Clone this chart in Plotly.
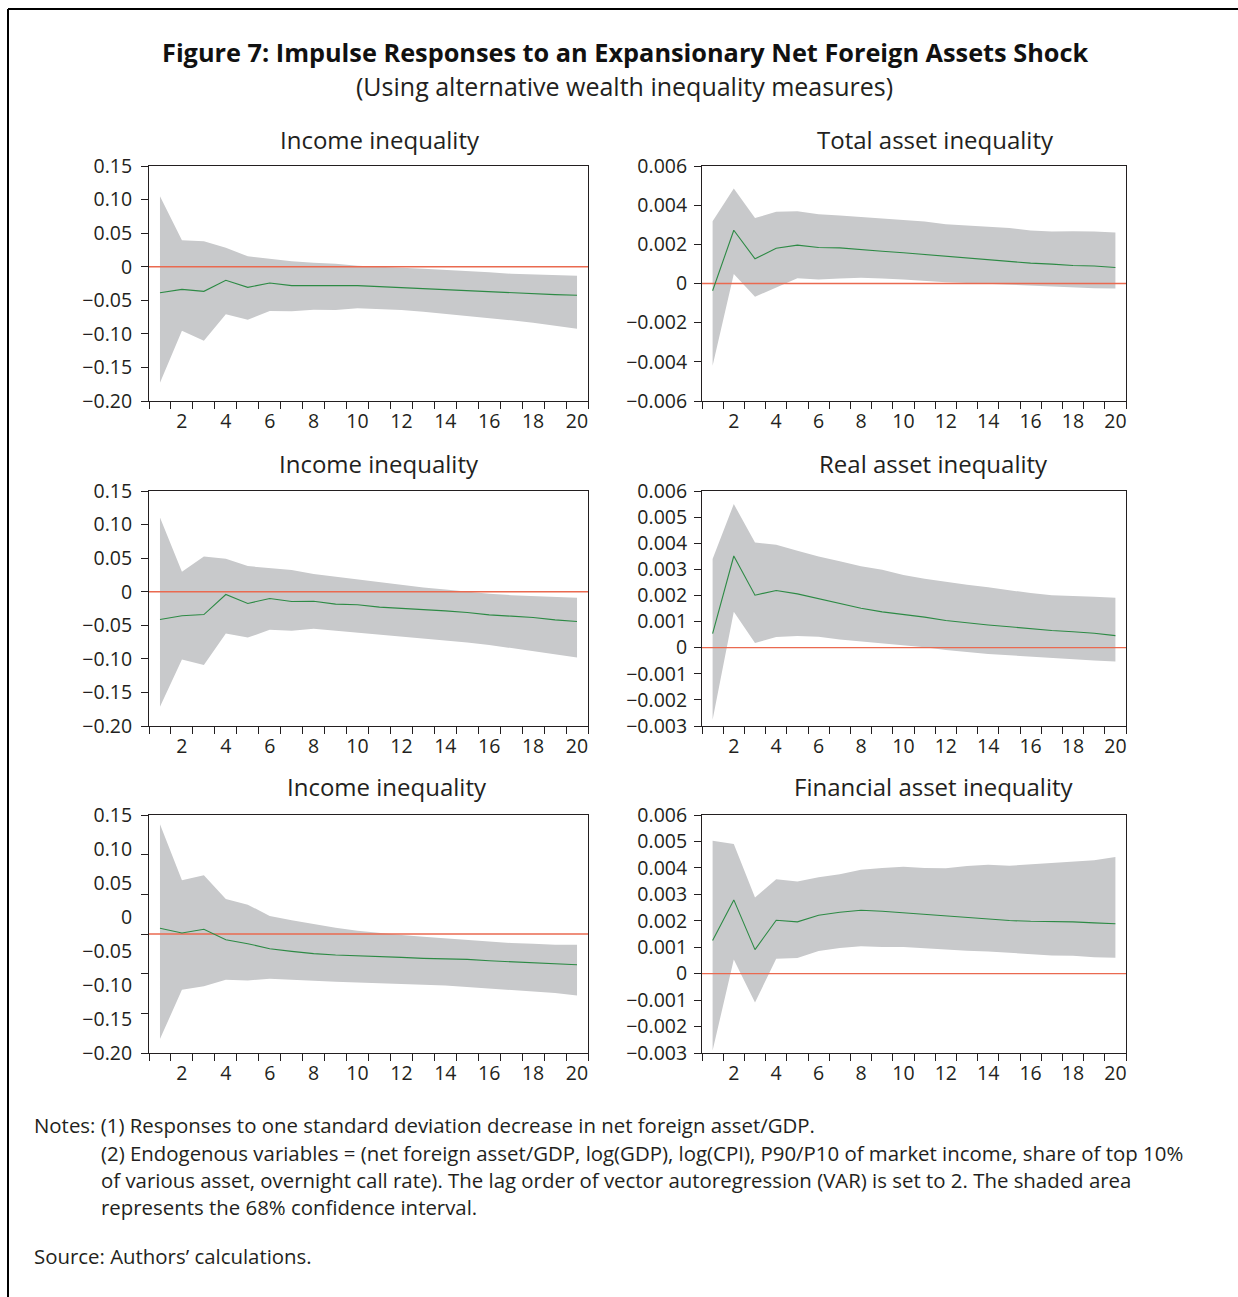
import numpy as np
import plotly.graph_objects as go

# ---------------- data ----------------
periods = list(range(1, 21))

titles = ["Income inequality", "Total asset inequality",
          "Income inequality", "Real asset inequality",
          "Income inequality", "Financial asset inequality"]

# Panel 1: Income inequality (vs total asset)
p1_mid = [-0.0387, -0.0337, -0.0367, -0.0203, -0.0307, -0.0243, -0.0282, -0.0282, -0.0292, -0.0282,
          -0.0297, -0.0312, -0.0327, -0.0347, -0.0367, -0.0377, -0.0392, -0.0407, -0.0416, -0.0426]
p1_hi = [0.1048, 0.0393, 0.0378, 0.0284, 0.0155, 0.0120, 0.0080, 0.0060, 0.0045, 0.0015,
         -0.0004, -0.0014, -0.0029, -0.0044, -0.0064, -0.0084, -0.0104, -0.0114, -0.0124, -0.0133]
p1_lo = [-0.1727, -0.0953, -0.1101, -0.0709, -0.0789, -0.0660, -0.0665, -0.0640, -0.0645, -0.0620,
         -0.0630, -0.0645, -0.0670, -0.0704, -0.0734, -0.0764, -0.0799, -0.0833, -0.0873, -0.0923]

# Panel 2: Total asset inequality
p2_mid = [-0.00037, 0.00272, 0.00126, 0.00180, 0.00196, 0.00184, 0.00182, 0.00175, 0.00165, 0.00157,
          0.00148, 0.00140, 0.00131, 0.00123, 0.00112, 0.00104, 0.00099, 0.00092, 0.00089, 0.00082]
p2_hi = [0.00318, 0.00485, 0.00334, 0.00366, 0.00369, 0.00354, 0.00347, 0.00340, 0.00334, 0.00327,
         0.00317, 0.00303, 0.00296, 0.00291, 0.00283, 0.00271, 0.00266, 0.00267, 0.00266, 0.00260]
p2_lo = [-0.00420, 0.00048, -0.00068, -0.00020, 0.00027, 0.00020, 0.00026, 0.00029, 0.00026, 0.00020,
         0.00015, 0.00007, 0.00003, 0.00000, -0.00005, -0.00010, -0.00015, -0.00019, -0.00024, -0.00026]

# Panel 3: Income inequality (vs real asset)
p3_mid = [-0.0414, -0.0359, -0.0340, -0.0041, -0.0175, -0.0101, -0.0146, -0.0141, -0.0185, -0.0195,
          -0.0230, -0.0245, -0.0265, -0.0285, -0.0310, -0.0345, -0.0364, -0.0384, -0.0419, -0.0444]
p3_hi = [0.1107, 0.0297, 0.0526, 0.0491, 0.0382, 0.0347, 0.0322, 0.0262, 0.0222, 0.0188,
         0.0153, 0.0103, 0.0063, 0.0033, -0.0001, -0.0031, -0.0051, -0.0066, -0.0081, -0.0091]
p3_lo = [-0.1712, -0.1011, -0.1090, -0.0623, -0.0683, -0.0568, -0.0583, -0.0553, -0.0583, -0.0603,
         -0.0633, -0.0663, -0.0697, -0.0727, -0.0757, -0.0792, -0.0837, -0.0881, -0.0931, -0.0981]

# Panel 4: Real asset inequality
p4_mid = [0.00054, 0.00351, 0.00201, 0.00219, 0.00206, 0.00188, 0.00169, 0.00151, 0.00137, 0.00127,
          0.00117, 0.00104, 0.00095, 0.00087, 0.00080, 0.00072, 0.00066, 0.00061, 0.00055, 0.00046]
p4_hi = [0.00340, 0.00550, 0.00403, 0.00394, 0.00371, 0.00349, 0.00331, 0.00312, 0.00298, 0.00278,
         0.00264, 0.00252, 0.00241, 0.00231, 0.00219, 0.00209, 0.00201, 0.00199, 0.00195, 0.00191]
p4_lo = [-0.00276, 0.00138, 0.00018, 0.00041, 0.00045, 0.00042, 0.00031, 0.00023, 0.00016, 0.00009,
         0.00002, -0.00009, -0.00017, -0.00024, -0.00030, -0.00035, -0.00039, -0.00044, -0.00049, -0.00053]

# Panel 5: Income inequality (vs financial asset)
p5_mid = [0.0072, 0.0013, 0.0059, -0.0072, -0.0122, -0.0185, -0.0219, -0.0248, -0.0265, -0.0273,
          -0.0282, -0.0295, -0.0307, -0.0311, -0.0320, -0.0337, -0.0349, -0.0366, -0.0379, -0.0387]
p5_hi = [0.1384, 0.0677, 0.0741, 0.0442, 0.0370, 0.0227, 0.0173, 0.0126, 0.0080, 0.0042,
         0.0013, -0.0013, -0.0034, -0.0055, -0.0080, -0.0101, -0.0114, -0.0122, -0.0135, -0.0135]
p5_lo = [-0.1325, -0.0703, -0.0660, -0.0576, -0.0585, -0.0564, -0.0576, -0.0593, -0.0602, -0.0610,
         -0.0614, -0.0627, -0.0640, -0.0648, -0.0661, -0.0682, -0.0703, -0.0724, -0.0745, -0.0774]

# Panel 6: Financial asset inequality
p6_mid = [0.00125, 0.00279, 0.00091, 0.00202, 0.00196, 0.00221, 0.00232, 0.00240, 0.00236, 0.00230,
          0.00225, 0.00218, 0.00211, 0.00207, 0.00201, 0.00198, 0.00198, 0.00196, 0.00192, 0.00189]
p6_hi = [0.00503, 0.00490, 0.00288, 0.00357, 0.00349, 0.00365, 0.00376, 0.00393, 0.00400, 0.00404,
         0.00400, 0.00399, 0.00407, 0.00412, 0.00408, 0.00413, 0.00417, 0.00422, 0.00429, 0.00441]
p6_lo = [-0.00291, 0.00054, -0.00109, 0.00056, 0.00059, 0.00086, 0.00097, 0.00104, 0.00101, 0.00101,
         0.00096, 0.00092, 0.00087, 0.00084, 0.00080, 0.00074, 0.00069, 0.00068, 0.00062, 0.00060]

# tick labels
x_tick_vals = [2, 4, 6, 8, 10, 12, 14, 16, 18, 20]
x_tick_text = ["2", "4", "6", "8", "10", "12", "14", "16", "18", "20"]
x_bounds = [0.5 + i for i in range(21)]

inc_ticks = [0.15, 0.10, 0.05, 0.0, -0.05, -0.10, -0.15, -0.20]
inc_text = ["0.15", "0.10", "0.05", "0", "\u22120.05", "\u22120.10", "\u22120.15", "\u22120.20"]

tot_ticks = [0.006, 0.004, 0.002, 0.0, -0.002, -0.004, -0.006]
tot_text = ["0.006", "0.004", "0.002", "0", "\u22120.002", "\u22120.004", "\u22120.006"]

ra_ticks = [0.006, 0.005, 0.004, 0.003, 0.002, 0.001, 0.0, -0.001, -0.002, -0.003]
ra_text = ["0.006", "0.005", "0.004", "0.003", "0.002", "0.001", "0", "\u22120.001", "\u22120.002", "\u22120.003"]

# panel 5: tick marks at 0.05 steps, labels evenly spread over the frame (as in the source)
p5_marks = [0.15, 0.10, 0.05, 0.0, -0.05, -0.10, -0.15]
p5_label_pos = list(np.linspace(0.15, -0.15, 8))

notes = [
    "Notes: (1) Responses to one standard deviation decrease in net foreign asset/GDP.",
    "(2) Endogenous variables = (net foreign asset/GDP, log(GDP), log(CPI), P90/P10 of market income, share of top 10%",
    "of various asset, overnight call rate). The lag order of vector autoregression (VAR) is set to 2. The shaded area",
    "represents the 68% confidence interval.",
    "Source: Authors\u2019 calculations.",
]

# ---------------- layout helpers ----------------
W, H = 1238, 1297
FONT = "Open Sans"
TXT = "#231F20"
BAND = "#C8C9CB"
GREEN = "#2D8A45"
RED = "#EA6A50"

def px(x):
    return x / W

def py(y):
    return 1 - y / H

cols = [(149, 588), (702, 1126)]
rows = [(166, 401), (491, 726), (815, 1053)]
y_standoff = [5, 3]

panels = [
    (p1_mid, p1_lo, p1_hi, [-0.20, 0.15], inc_ticks, inc_text),
    (p2_mid, p2_lo, p2_hi, [-0.006, 0.006], tot_ticks, tot_text),
    (p3_mid, p3_lo, p3_hi, [-0.20, 0.15], inc_ticks, inc_text),
    (p4_mid, p4_lo, p4_hi, [-0.003, 0.006], ra_ticks, ra_text),
    (p5_mid, p5_lo, p5_hi, [-0.15, 0.15], p5_label_pos, inc_text),
    (p6_mid, p6_lo, p6_hi, [-0.003, 0.006], ra_ticks, ra_text),
]

title_pos = [(379.5, 139), (935, 139), (378.5, 463), (933.5, 463), (386.5, 787), (933.5, 787)]

fig = go.Figure()
layout = dict(
    width=W, height=H, autosize=False,
    margin=dict(l=0, r=0, t=0, b=0, pad=0, autoexpand=False),
    paper_bgcolor="white", plot_bgcolor="white",
    showlegend=False,
    font=dict(family=FONT, color=TXT),
)
shapes = []
annotations = []

TICKFONT = dict(size=19.5, color=TXT, family=FONT)

for i, (mid, lo, hi, yr, tv, tt) in enumerate(panels):
    r, c = divmod(i, 2)
    n = i + 1
    xa = "x" if n == 1 else f"x{n}"
    ya = "y" if n == 1 else f"y{n}"
    # confidence band
    fig.add_trace(go.Scatter(
        x=periods + periods[::-1], y=hi + lo[::-1],
        xaxis=xa, yaxis=ya, mode="lines", fill="toself",
        fillcolor=BAND, line=dict(width=0, color=BAND), hoverinfo="skip"))
    # zero line
    fig.add_trace(go.Scatter(
        x=[x_bounds[0], x_bounds[-1]], y=[0, 0], xaxis=xa, yaxis=ya,
        mode="lines", line=dict(color=RED, width=1.4), hoverinfo="skip"))
    # impulse response
    fig.add_trace(go.Scatter(
        x=periods, y=mid, xaxis=xa, yaxis=ya, mode="lines",
        line=dict(color=GREEN, width=1.1)))

    x0, x1 = cols[c]
    y0, y1 = rows[r]
    layout[f"xaxis{'' if n == 1 else n}"] = dict(
        domain=[px(x0), px(x1)], anchor=ya, range=[0.5, 20.5], automargin=False,
        tickmode="array", tickvals=x_tick_vals, ticktext=x_tick_text, ticks="",
        minor=dict(tickmode="array", tickvals=x_bounds, ticks="outside", ticklen=7,
                   tickcolor=TXT, tickwidth=1, showgrid=False),
        showline=True, mirror=True, linecolor=TXT, linewidth=1,
        showgrid=False, zeroline=False, tickfont=TICKFONT,
        ticklabelstandoff=3, fixedrange=True)
    yax = dict(
        domain=[py(y1), py(y0)], anchor=xa, range=yr, automargin=False,
        tickmode="array", tickvals=tv, ticktext=tt,
        showline=True, mirror=True, linecolor=TXT, linewidth=1,
        showgrid=False, zeroline=False, tickfont=TICKFONT,
        fixedrange=True)
    if n == 5:
        yax.update(ticks="", ticklabelstandoff=12,
                   minor=dict(tickmode="array", tickvals=p5_marks, ticks="outside",
                              ticklen=7, tickcolor=TXT, tickwidth=1, showgrid=False))
    else:
        yax.update(ticks="outside", ticklen=7, tickcolor=TXT, tickwidth=1,
                   ticklabelstandoff=y_standoff[c])
    layout[f"yaxis{'' if n == 1 else n}"] = yax

    tx, ty = title_pos[i]
    annotations.append(dict(
        text=titles[i], x=px(tx), y=py(ty), xref="paper", yref="paper",
        xanchor="center", yanchor="middle", showarrow=False,
        font=dict(size=24, family=FONT, color=TXT)))

# figure titles
annotations.append(dict(
    text="<b>Figure 7: Impulse Responses to an Expansionary Net Foreign Assets Shock</b>",
    x=px(625), y=py(52), xref="paper", yref="paper", xanchor="center", yanchor="middle",
    showarrow=False, font=dict(size=25.3, family=FONT, color="#111111")))
annotations.append(dict(
    text="(Using alternative wealth inequality measures)",
    x=px(624.5), y=py(86), xref="paper", yref="paper", xanchor="center", yanchor="middle",
    showarrow=False, font=dict(size=25, family=FONT, color=TXT)))

# notes
note_pos = [(32, 1125), (99, 1153), (99, 1180), (99, 1207), (32, 1256)]
for t, (nx, ny) in zip(notes, note_pos):
    annotations.append(dict(
        text=t, x=px(nx), y=py(ny), xref="paper", yref="paper",
        xanchor="left", yanchor="middle", showarrow=False,
        font=dict(size=20.4, family=FONT, color=TXT)))

# outer frame (top and left edges)
shapes.append(dict(type="line", xref="paper", yref="paper",
                   x0=px(8), x1=1, y0=py(9), y1=py(9), line=dict(color="black", width=2)))
shapes.append(dict(type="line", xref="paper", yref="paper",
                   x0=px(8), x1=px(8), y0=py(9), y1=0, line=dict(color="black", width=2)))

layout["shapes"] = shapes
layout["annotations"] = annotations
fig.update_layout(**layout)

fig.write_html("out.html",
               post_script="document.body.style.margin='0px';document.documentElement.style.overflow='hidden';",
               config={"displayModeBar": False})
